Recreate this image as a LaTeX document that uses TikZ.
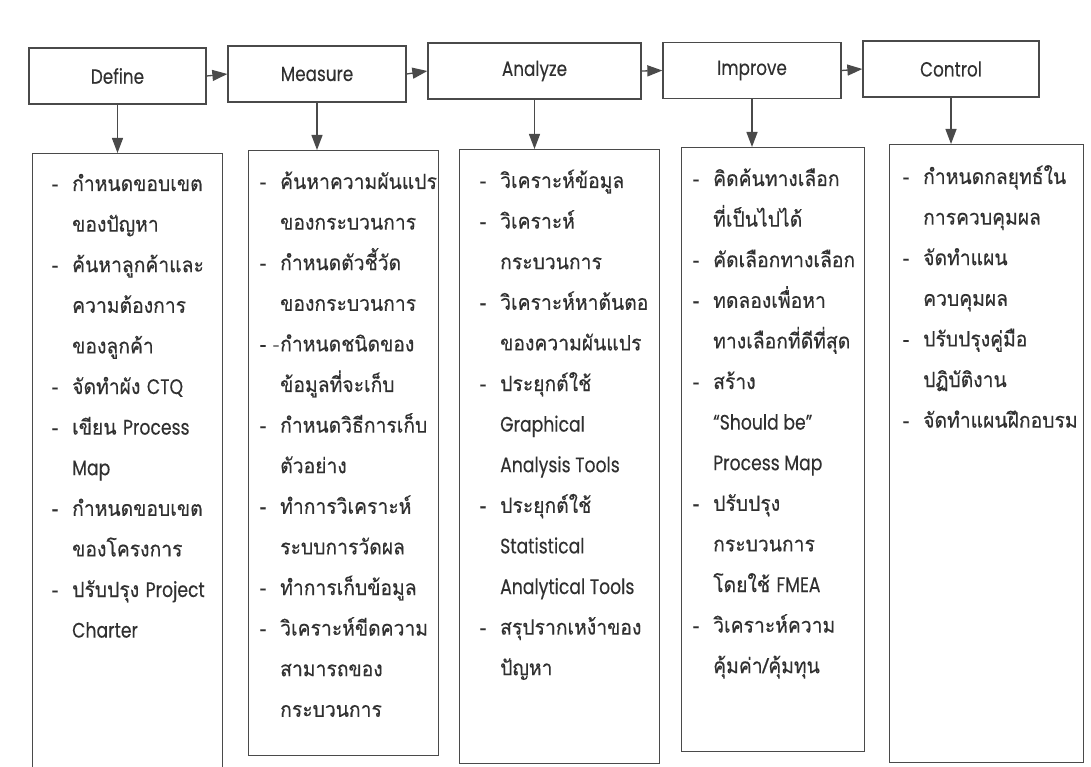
\documentclass[tikz,border=0pt]{standalone}
\usepackage{fontspec}
\usetikzlibrary{arrows.meta}
\newfontfamily\thaifont[Script=Thai, FakeStretch=0.92, FakeBold=0.35]{Loma}
\newfontfamily\latfont[FakeStretch=0.82, FakeBold=0.2]{Poppins}
\newcommand\en[1]{{\latfont #1}}
% a dash hung to the left of the first line of each item
\newcommand\itm{\llap{-\hspace{14pt}}}
\definecolor{ink}{HTML}{303030}
\definecolor{rule}{HTML}{4A4A4A}
\tikzset{
  stage/.style={draw=rule, line width=1.3pt, inner sep=0pt, minimum height=56pt,
    text=ink, font=\latfont\fontsize{20.5}{24}\selectfont},
  listbox/.style={draw=rule, line width=1.3pt, inner sep=0pt, anchor=north west},
  listtext/.style={anchor=base west, inner sep=0pt, text=ink,
    font=\thaifont\fontsize{21}{40.6}\selectfont},
  flow/.style={draw=rule, line width=1.3pt, -{Triangle[length=15pt,width=11pt]}},
}
\begin{document}
\begin{tikzpicture}[x=1pt,y=-1pt]
\useasboundingbox (0,0) rectangle (1091,767);
\clip (0,0) rectangle (1091,767);
\fill[white] (0,0) rectangle (1091,767);

% the five DMAIC stages
\node[stage, minimum width=177pt] (define)  at (117.5,76) {Define};
\node[stage, minimum width=178pt] (measure) at (317,74)   {Measure};
\node[stage, minimum width=213pt] (analyze) at (534.5,71) {Analyze};
\node[stage, minimum width=178pt] (improve) at (752,70.5) {Improve};
\node[stage, minimum width=176pt] (control) at (951,69)   {Control};

\draw[flow] (define.east)  -- (measure.west);
\draw[flow] (measure.east) -- (analyze.west);
\draw[flow] (analyze.east) -- (improve.west);
\draw[flow] (improve.east) -- (control.west);

% activity boxes under each stage
\node[listbox, minimum width=190pt, minimum height=650pt] (dlist) at (32,153) {};
\node[listbox, minimum width=190pt, minimum height=605pt] (mlist) at (248,150) {};
\node[listbox, minimum width=200pt, minimum height=614pt] (alist) at (459,149) {};
\node[listbox, minimum width=183pt, minimum height=604pt] (ilist) at (681,147) {};
\node[listbox, minimum width=194pt, minimum height=618pt] (clist) at (889,144) {};

\draw[flow] (define.south)  -- (define.south  |- dlist.north);
\draw[flow] (measure.south) -- (measure.south |- mlist.north);
\draw[flow] (analyze.south) -- (analyze.south |- alist.north);
\draw[flow] (improve.south) -- (improve.south |- ilist.north);
\draw[flow] (control.south) -- (control.south |- clist.north);

\node[listtext] (dtext) at (72,191) {\begin{tabular}[t]{@{}l@{}}
\itm กำหนดขอบเขต\\
ของปัญหา\\
\itm ค้นหาลูกค้าและ\\
ความต้องการ\\
ของลูกค้า\\
\itm จัดทำผัง \en{CTQ}\\
\itm เขียน \en{Process}\\
\en{Map}\\
\itm กำหนดขอบเขต\\
ของโครงการ\\
\itm ปรับปรุง \en{Project}\\
\en{Charter}
\end{tabular}};

\node[listtext] (mtext) at (280,189) {\begin{tabular}[t]{@{}l@{}}
\itm ค้นหาความผันแปร\\
ของกระบวนการ\\
\itm กำหนดตัวชี้วัด\\
ของกระบวนการ\\
\itm \llap{\textcolor{ink!60}{-}\hspace{1pt}}กำหนดชนิดของ\\
ข้อมูลที่จะเก็บ\\
\itm กำหนดวิธีการเก็บ\\
ตัวอย่าง\\
\itm ทำการวิเคราะห์\\
ระบบการวัดผล\\
\itm ทำการเก็บข้อมูล\\
\itm วิเคราะห์ขีดความ\\
สามารถของ\\
กระบวนการ
\end{tabular}};

\node[listtext] (atext) at (500,188) {\begin{tabular}[t]{@{}l@{}}
\itm วิเคราะห์ข้อมูล\\
\itm วิเคราะห์\\
กระบวนการ\\
\itm วิเคราะห์หาต้นตอ\\
ของความผันแปร\\
\itm ประยุกต์ใช้\\
\en{Graphical}\\
\en{Analysis Tools}\\
\itm ประยุกต์ใช้\\
\en{Statistical}\\
\en{Analytical Tools}\\
\itm สรุปรากเหง้าของ\\
ปัญหา
\end{tabular}};

\node[listtext] (itext) at (713,186) {\begin{tabular}[t]{@{}l@{}}
\itm คิดค้นทางเลือก\\
ที่เป็นไปได้\\
\itm คัดเลือกทางเลือก\\
\itm ทดลองเพื่อหา\\
ทางเลือกที่ดีที่สุด\\
\itm สร้าง\\
\en{“Should be”}\\
\en{Process Map}\\
\itm ปรับปรุง\\
กระบวนการ\\
โดยใช้ \en{FMEA}\\
\itm วิเคราะห์ความ\\
คุ้มค่า/คุ้มทุน
\end{tabular}};

\node[listtext] (ctext) at (923,184) {\begin{tabular}[t]{@{}l@{}}
\itm กำหนดกลยุทธ์ใน\\
การควบคุมผล\\
\itm จัดทำแผน\\
ควบคุมผล\\
\itm ปรับปรุงคู่มือ\\
ปฏิบัติงาน\\
\itm จัดทำแผนฝึกอบรม
\end{tabular}};
\end{tikzpicture}
\end{document}
